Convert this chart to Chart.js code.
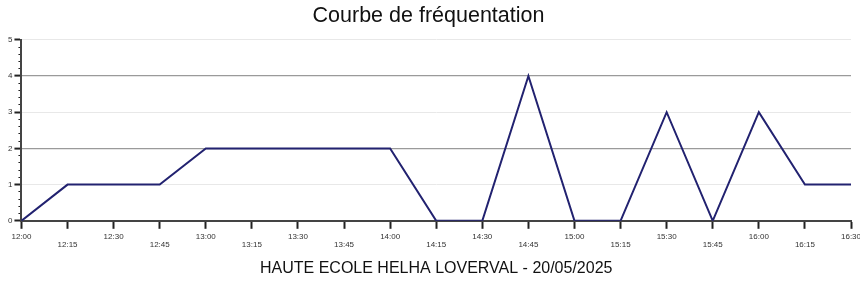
<!DOCTYPE html>
<html>
<head>
<meta charset="utf-8">
<script src="https://cdn.jsdelivr.net/npm/chart.js@4"></script>
<style>
  html, body { margin: 0; padding: 0; background: #fff; }
  #wrap { width: 860px; height: 284px; }
</style>
</head>
<body>
<div id="wrap"><canvas id="c"></canvas></div>
<script>
const timeLabels = ["12:00","12:15","12:30","12:45","13:00","13:15","13:30","13:45","14:00","14:15","14:30","14:45","15:00","15:15","15:30","15:45","16:00","16:15","16:30"];
const visitors = [0,1,1,1,2,2,2,2,2,0,0,4,0,0,3,0,3,1,1];
const yTicks = [0,1,2,3,4,5];
const chartTitle = "Courbe de fréquentation";
const xTitle = "HAUTE ECOLE HELHA LOVERVAL - 20/05/2025";

const staggered = timeLabels.map((t, i) => i % 2 === 0 ? [t, ""] : ["", t]);

Chart.defaults.font.family = "'Liberation Sans', Arial, sans-serif";

new Chart(document.getElementById('c'), {
  type: 'line',
  data: {
    labels: staggered,
    datasets: [{
      data: visitors,
      borderColor: '#222270',
      borderWidth: 2,
      pointRadius: 0,
      tension: 0,
      fill: false
    }]
  },
  options: {
    responsive: true,
    maintainAspectRatio: false,
    animation: false,
    layout: { padding: { left: 6, right: 9, top: 0, bottom: 6 } },
    plugins: {
      legend: { display: false },
      tooltip: { enabled: false },
      title: {
        display: true,
        text: chartTitle,
        color: '#111',
        font: { size: 21.5, weight: 'normal' },
        padding: { top: 3, bottom: 11 }
      }
    },
    scales: {
      x: {
        type: 'category',
        offset: false,
        afterFit: (s) => { s.paddingRight = 0; },
        grid: { drawOnChartArea: false, tickLength: 8, tickColor: '#222', tickWidth: 2 },
        border: { color: '#444', width: 2 },
        ticks: { autoSkip: false, maxRotation: 0, minRotation: 0, color: '#333', font: { size: 8, lineHeight: 1.0 }, padding: 4 },
        title: { display: true, text: xTitle, color: '#111', font: { size: 16 }, padding: { top: 6, bottom: 0 } }
      },
      y: {
        min: 0, max: 5,
        weight: 1,
        afterBuildTicks: (s) => { s.ticks = yTicks.map(v => ({ value: v })); },
        grid: {
          color: (ctx) => (ctx.tick && (ctx.tick.value === 2 || ctx.tick.value === 4)) ? '#9a9a9a' : (ctx.tick && ctx.tick.value === 0 ? 'transparent' : '#e8e8e8'),
          lineWidth: (ctx) => (ctx.tick && (ctx.tick.value === 2 || ctx.tick.value === 4)) ? 1.2 : 1,
          tickLength: 7, tickColor: '#222', tickWidth: 2
        },
        border: { color: '#444', width: 2 },
        ticks: { color: '#333', font: { size: 8 }, padding: 2 }
      },
      yMinor: {
        position: 'left',
        weight: -1,
        min: 0, max: 5,
        afterBuildTicks: (s) => {
          const arr = [];
          for (let i = 0; i <= 25; i++) { if (i % 5 !== 0) arr.push({ value: i / 5 }); }
          s.ticks = arr;
        },
        afterFit: (s) => { s.width = 0; },
        grid: { drawOnChartArea: false, tickLength: 3, tickColor: '#222', tickWidth: 1 },
        border: { display: false },
        ticks: { display: false }
      }
    }
  }
});
</script>
</body>
</html>
